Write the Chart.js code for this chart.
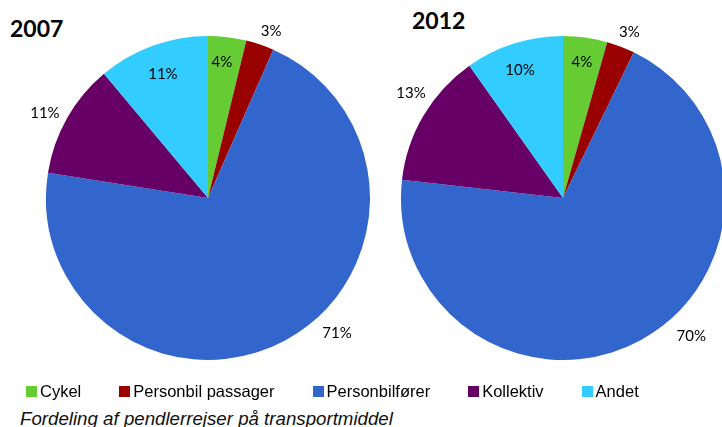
<!DOCTYPE html>
<html><head><meta charset="utf-8">
<script src="https://cdn.jsdelivr.net/npm/chart.js@4.4.1/dist/chart.umd.min.js"></script>
<style>
html,body{margin:0;padding:0;background:#fff;width:722px;height:427px;overflow:hidden;position:relative;font-family:Lato,sans-serif;}
.wrap{position:absolute;width:380px;height:380px;}
.title{position:absolute;font:bold 23px Lato,sans-serif;color:#000;}
#legend{position:absolute;left:26px;top:381px;display:flex;font:16.5px "Liberation Sans",Arial,sans-serif;line-height:20px;color:#000;}
#legend .it{display:flex;align-items:center;margin-right:38px;}
#legend .sw{width:11px;height:11px;margin-right:3px;}
#caption{position:absolute;left:20px;top:408.5px;font:italic 18.7px "Liberation Sans",Arial,sans-serif;line-height:19px;color:#111;white-space:nowrap;}
</style></head>
<body>
<div class="title" style="left:10px;top:14px">2007</div>
<div class="title" style="left:412px;top:6px">2012</div>
<div class="wrap" style="left:18px;top:8px"><canvas id="c1" width="380" height="380"></canvas></div>
<div class="wrap" style="left:373px;top:8px"><canvas id="c2" width="380" height="380"></canvas></div>
<div id="legend"></div>
<div id="caption">Fordeling af pendlerrejser på transportmiddel</div>
<script>
const categories = ["Cykel","Personbil passager","Personbilfører","Kollektiv","Andet"];
const values2007 = [3.8, 2.8, 70.9, 11.4, 11.1];
const values2012 = [4.4, 2.8, 69.6, 13.4, 9.8];
const years = ["2007","2012"];
const colors = ["#66CC33","#990000","#3366CC","#660066","#33CCFF"];

const labelPlugin = {
  id:'sliceLabels',
  afterDatasetsDraw(chart){
    const o = chart.options.plugins.sliceLabels;
    const ctx = chart.ctx;
    const ds = chart.data.datasets[0];
    const total = ds.data.reduce((a,b)=>a+b,0);
    const meta = chart.getDatasetMeta(0);
    ctx.save();
    ctx.font = '15px Lato, sans-serif';
    ctx.fillStyle = '#000';
    ctx.textAlign='center'; ctx.textBaseline='middle';
    meta.data.forEach((arc,i)=>{
      const p = arc.getProps(['x','y','startAngle','endAngle','outerRadius'],true);
      const a = (p.startAngle+p.endAngle)/2 + o.shift[i]*Math.PI/180;
      const r = p.outerRadius*o.radius[i];
      ctx.fillText(Math.round(ds.data[i]/total*100)+'%', p.x+Math.cos(a)*r, p.y+Math.sin(a)*r);
    });
    ctx.restore();
  }
};

function makePie(id, data, radius, shift){
  return new Chart(document.getElementById(id),{
    type:'pie',
    data:{labels:categories,datasets:[{data:data,backgroundColor:colors,borderWidth:0}]},
    options:{
      responsive:false,animation:false,
      layout:{padding:28},
      plugins:{legend:{display:false},tooltip:{enabled:false},
        sliceLabels:{radius:radius,shift:shift}}
    },
    plugins:[labelPlugin]
  });
}
makePie('c1', values2007, [0.84,1.10,1.155,1.135,0.815], [-1,2,-15,-2,0]);
makePie('c2', values2012, [0.845,1.10,1.165,1.14,0.83], [0,1,-14,4,-1]);

const lg = document.getElementById('legend');
categories.forEach((c,i)=>{
  const it=document.createElement('div');it.className='it';
  const sw=document.createElement('span');sw.className='sw';sw.style.background=colors[i];
  const t=document.createElement('span');t.textContent=c;
  it.appendChild(sw);it.appendChild(t);lg.appendChild(it);
});
</script>
</body></html>
